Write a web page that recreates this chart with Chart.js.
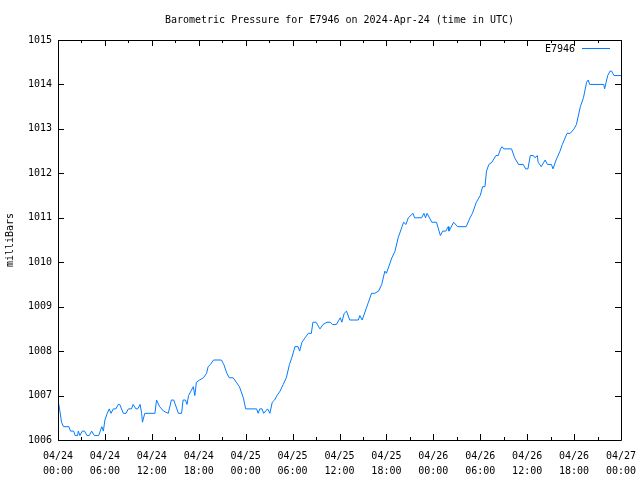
<!DOCTYPE html>
<html>
<head>
<meta charset="utf-8">
<script src="https://cdn.jsdelivr.net/npm/chart.js@4"></script>
<style>
  html, body { margin: 0; padding: 0; background: #fff; }
  #c { display: block; }
</style>
</head>
<body>
<canvas id="c" width="640" height="480"></canvas>
<script>
// hours since 2024-04-24 00:00 UTC
const hours = [0.0,0.2,0.45,0.7,1.4,1.6,2.0,2.2,2.5,2.6,2.8,3.1,3.4,3.7,4.0,4.3,4.65,5.2,5.6,5.8,
  6.0,6.3,6.56,6.78,7.07,7.4,7.7,7.9,8.35,8.7,9.0,9.4,9.6,9.97,10.2,10.5,10.7,10.8,11.1,12.4,
  12.6,13.0,13.5,14.1,14.5,14.8,15.4,15.8,16.0,16.3,16.5,16.7,17.0,17.3,17.5,17.7,18.1,18.6,19.0,19.2,
  19.5,19.9,20.9,21.2,21.6,21.9,22.4,22.8,23.2,23.7,24.0,25.4,25.6,25.8,26.1,26.3,26.8,27.1,27.4,27.7,
  28.0,28.4,28.8,29.2,29.6,29.9,30.3,30.7,30.9,31.2,31.6,32.0,32.4,32.6,33.0,33.5,33.9,34.4,34.8,35.1,
  35.6,36.1,36.3,36.6,36.9,37.3,38.4,38.6,38.9,39.4,39.7,40.1,40.5,41.0,41.4,41.8,42.0,42.2,42.7,43.1,
  43.5,44.0,44.2,44.5,44.8,45.4,45.6,46.5,46.8,47.0,47.2,47.8,48.4,48.9,49.2,49.6,49.9,50.0,50.6,51.1,
  52.2,52.7,53.0,53.5,54.0,54.3,54.6,54.8,55.1,55.5,56.0,56.3,56.6,56.8,57.0,58.0,58.4,58.9,59.5,59.8,
  60.1,60.4,60.8,61.0,61.3,61.4,61.8,62.3,62.6,63.1,63.3,63.7,64.2,64.5,65.1,65.5,66.0,66.3,66.8,67.2,
  67.6,67.8,68.0,69.8,69.9,70.3,70.6,70.8,71.1,72.0];

const pressure = [1006.9,1006.7,1006.4,1006.3,1006.3,1006.2,1006.2,1006.1,1006.1,1006.2,1006.1,1006.2,1006.2,1006.1,1006.1,1006.2,1006.1,1006.1,1006.3,1006.2,
  1006.45,1006.6,1006.7,1006.6,1006.7,1006.7,1006.8,1006.8,1006.6,1006.6,1006.7,1006.7,1006.8,1006.7,1006.7,1006.8,1006.6,1006.4,1006.6,1006.6,
  1006.9,1006.75,1006.65,1006.6,1006.9,1006.9,1006.6,1006.6,1006.9,1006.9,1006.8,1007.0,1007.1,1007.2,1007.0,1007.3,1007.35,1007.4,1007.5,1007.65,
  1007.7,1007.8,1007.8,1007.7,1007.5,1007.4,1007.4,1007.3,1007.2,1006.95,1006.7,1006.7,1006.6,1006.7,1006.7,1006.6,1006.7,1006.6,1006.85,1006.9,
  1007.0,1007.1,1007.25,1007.4,1007.7,1007.85,1008.1,1008.1,1008.0,1008.2,1008.3,1008.4,1008.4,1008.65,1008.65,1008.5,1008.6,1008.65,1008.65,1008.6,
  1008.6,1008.75,1008.65,1008.85,1008.9,1008.7,1008.7,1008.8,1008.7,1008.95,1009.1,1009.3,1009.3,1009.35,1009.5,1009.8,1009.75,1009.85,1010.1,1010.25,
  1010.55,1010.8,1010.9,1010.85,1011.0,1011.1,1011.0,1011.0,1011.1,1011.0,1011.1,1010.9,1010.9,1010.6,1010.7,1010.7,1010.8,1010.7,1010.9,1010.8,
  1010.8,1011.0,1011.1,1011.35,1011.5,1011.7,1011.7,1012.05,1012.2,1012.25,1012.4,1012.4,1012.55,1012.6,1012.55,1012.55,1012.35,1012.2,1012.2,1012.1,
  1012.1,1012.4,1012.4,1012.35,1012.4,1012.25,1012.15,1012.3,1012.2,1012.2,1012.1,1012.3,1012.5,1012.65,1012.9,1012.9,1013.0,1013.1,1013.5,1013.7,
  1014.05,1014.1,1014.0,1014.0,1013.9,1014.2,1014.3,1014.3,1014.2,1014.2];

const xTickDates = ['04/24','04/24','04/24','04/24','04/25','04/25','04/25','04/25','04/26','04/26','04/26','04/26','04/27'];
const xTickTimes = ['00:00','06:00','12:00','18:00','00:00','06:00','12:00','18:00','00:00','06:00','12:00','18:00','00:00'];

const chartTitle = 'Barometric Pressure for E7946 on 2024-Apr-24 (time in UTC)';
const FONT = '"DejaVu Sans Mono", "Liberation Mono", monospace';
const lineColor = 'rgb(0,124,255)';

const points = hours.map((h, i) => ({ x: h, y: pressure[i] }));

// border, inward tics on all four sides, title and the key
const frame = {
  id: 'frame',
  afterDraw(chart) {
    const ctx = chart.ctx;
    const a = chart.chartArea;
    const xs = chart.scales.x, ys = chart.scales.y;
    ctx.save();
    ctx.strokeStyle = '#000';
    ctx.lineWidth = 1;
    ctx.beginPath();
    ctx.rect(Math.round(a.left) + 0.5, Math.round(a.top) + 0.5,
             Math.round(a.right - a.left), Math.round(a.bottom - a.top));
    for (let h = 0; h <= 72; h += 3) {
      const px = Math.round(xs.getPixelForValue(h)) + 0.5;
      const len = h % 6 === 0 ? 6 : 3;
      ctx.moveTo(px, a.bottom); ctx.lineTo(px, a.bottom - len);
      ctx.moveTo(px, a.top); ctx.lineTo(px, a.top + len);
    }
    for (let v = 1006; v <= 1015; v++) {
      const py = Math.round(ys.getPixelForValue(v)) + 0.5;
      ctx.moveTo(a.left, py); ctx.lineTo(a.left + 6, py);
      ctx.moveTo(a.right, py); ctx.lineTo(a.right - 6, py);
    }
    ctx.stroke();

    ctx.font = '10px ' + FONT;
    ctx.fillStyle = '#000';
    ctx.textBaseline = 'middle';
    ctx.textAlign = 'center';
    ctx.fillText(chartTitle, (a.left + a.right) / 2, 20);

    // key
    ctx.textAlign = 'right';
    ctx.fillText(chart.data.datasets[0].label, 575, 49);
    ctx.strokeStyle = lineColor;
    ctx.beginPath();
    ctx.moveTo(582, 48.5); ctx.lineTo(610, 48.5);
    ctx.stroke();
    ctx.restore();
  }
};

new Chart(document.getElementById('c'), {
  type: 'line',
  data: {
    datasets: [{
      label: 'E7946',
      data: points,
      borderColor: lineColor,
      borderWidth: 1,
      pointRadius: 0,
      fill: false,
      tension: 0
    }]
  },
  options: {
    responsive: false,
    animation: false,
    layout: { padding: { left: 0, right: 19, top: 40, bottom: 0 } },
    plugins: {
      legend: { display: false },
      tooltip: { enabled: false },
      title: { display: false }
    },
    scales: {
      x: {
        type: 'linear',
        min: 0,
        max: 72,
        afterFit(scale) {
          scale.height = 40;
          scale.paddingLeft = 0;
          scale.paddingRight = 0;
        },
        afterBuildTicks(scale) {
          scale.ticks = xTickTimes.map((t, i) => ({ value: i * 6 }));
        },
        grid: { display: false, drawTicks: false },
        border: { display: false },
        ticks: {
          autoSkip: false,
          maxRotation: 0,
          padding: 9,
          color: '#000',
          font: { family: FONT, size: 10, lineHeight: 1.5 },
          callback: (v) => {
            const i = Math.round(v / 6);
            return [xTickDates[i], xTickTimes[i]];
          }
        }
      },
      y: {
        min: 1006,
        max: 1015,
        afterFit(scale) {
          scale.width = 58;
          scale.paddingTop = 0;
          scale.paddingBottom = 0;
        },
        grid: { display: false, drawTicks: false },
        border: { display: false },
        title: {
          display: true,
          text: 'milliBars',
          color: '#000',
          font: { family: FONT, size: 10 },
          padding: { top: 4, bottom: 0 }
        },
        ticks: {
          stepSize: 1,
          padding: 6,
          color: '#000',
          font: { family: FONT, size: 10 },
          callback: (v) => String(v)
        }
      }
    }
  },
  plugins: [frame]
});
</script>
</body>
</html>
